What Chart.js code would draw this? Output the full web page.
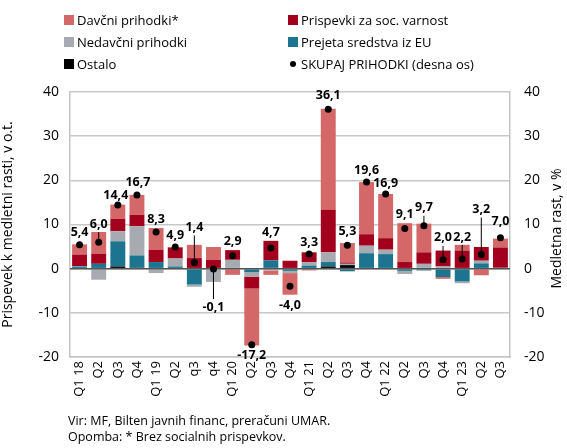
<!DOCTYPE html>
<html>
<head>
<meta charset="utf-8">
<script src="https://cdn.jsdelivr.net/npm/chart.js@4"></script>
<style>
  html, body { margin: 0; padding: 0; background: #fff; }
  #wrap { position: relative; width: 567px; height: 448px; font-family: 'Open Sans', sans-serif; color: #000; }
  #legend { position: absolute; left: 0; top: 0; width: 567px; font-size: 13px; }
  .lg { position: absolute; display: flex; align-items: center; white-space: nowrap; }
  .sw { width: 10px; height: 10px; margin-right: 3px; }
  .dot { width: 6px; height: 6px; border-radius: 50%; background: #000; margin: 0 5px 0 2px; }
  .note { position: absolute; left: 68px; font-size: 12.5px; white-space: nowrap; }
</style>
</head>
<body>
<div id="wrap">
  <canvas id="c" width="567" height="448"></canvas>
  <div id="legend"></div>
  <div class="note" style="top:412px">Vir: MF, Bilten javnih financ, preračuni UMAR.</div>
  <div class="note" style="top:428px">Opomba: * Brez socialnih prispevkov.</div>
</div>
<script>
const categories = ['Q1 18', 'Q2', 'Q3', 'Q4', 'Q1 19', 'Q2', 'q3', 'q4', 'Q1 20', 'Q2', 'Q3', 'Q4',
  'Q1 21', 'Q2', 'Q3', 'Q4', 'Q1 22', 'Q2', 'Q3', 'Q4', 'Q1 23', 'Q2', 'Q3'];

const davcni    = [2.3, 4.9, 3.2, 4.5, 4.9, 0.1, 3.0, 2.9, -1.4, -12.9, -1.0, -4.9, -0.4, 22.9, 4.4, 11.8, 10.0, 8.8, 6.5, -0.4, 1.3, -1.5, 2.0];
const prispevki = [2.6, 2.3, 2.8, 2.6, 2.8, 2.5, 2.4, 2.0, 2.2, -2.7, 4.4, 1.8, 2.2, 9.6, 0.3, 2.6, 2.6, 1.5, 2.6, 3.6, 4.1, 3.1, 4.6];
const nedavcni  = [0.1, -2.5, 2.3, 6.6, -1.0, 1.8, -0.5, -3.0, 2.0, -1.0, -0.4, -0.5, 0.8, 2.2, 0.3, 1.7, 1.0, -0.7, 1.1, 0.5, -0.4, 0.6, 0.2];
const euSredstva = [0.5, 1.1, 5.7, 2.8, 1.5, 0.5, -3.6, 0.0, 0.0, -0.8, 1.7, -0.5, 0.7, 1.0, -0.6, 3.5, 3.3, -0.5, -0.4, -1.9, -2.9, 1.2, 0.0];
const ostalo    = [0, 0, 0.5, 0.2, 0, 0, 0, 0, 0, 0, 0.2, 0, 0, 0.5, 0.8, 0, 0, 0, 0, 0, 0, 0, 0];
const skupaj    = [5.4, 6.0, 14.4, 16.7, 8.3, 4.9, 1.4, -0.1, 2.9, -17.2, 4.7, -4.0, 3.3, 36.1, 5.3, 19.6, 16.9, 9.1, 9.7, 2.0, 2.2, 3.2, 7.0];

const axisMin = -20, axisMax = 40, axisStep = 10;

const COLORS = {
  davcni: '#d46868',
  prispevki: '#a2001d',
  nedavcni: '#a7abb1',
  eu: '#1c7490',
  ostalo: '#000000'
};

// label offsets from the point: [dx, dy, leader line]
const labelShift = [
  [0, -12], [0, -18, true], [-2, -10], [1, -12], [0, -13], [0, -12], [0, -35, true], [0, 38, true],
  [0, -14], [0, 11], [0, -15], [0, 19], [0, -12], [0, -14], [0, -14], [0, -12], [0, -11],
  [0, -14], [0, -18, true], [0, -22, true], [0, -22, true], [0, -45, true], [0, -16]
];

// html legend, two columns
const legendItems = [
  ['Davčni prihodki*', COLORS.davcni, 64, 11],
  ['Prispevki za soc. varnost', COLORS.prispevki, 288, 11],
  ['Nedavčni prihodki', COLORS.nedavcni, 64, 33],
  ['Prejeta sredstva iz EU', COLORS.eu, 288, 33],
  ['Ostalo', COLORS.ostalo, 64, 55],
  ['SKUPAJ PRIHODKI (desna os)', null, 288, 55]
];
const lg = document.getElementById('legend');
legendItems.forEach(([txt, col, x, y]) => {
  const d = document.createElement('div');
  d.className = 'lg';
  d.style.left = x + 'px';
  d.style.top = y + 'px';
  d.innerHTML = (col ? '<span class="sw" style="background:' + col + '"></span>' : '<span class="dot"></span>') + txt;
  lg.appendChild(d);
});

const pointLabels = {
  id: 'pointLabels',
  beforeDatasetDraw(chart, args) {
    // zero line sits over the bars, under the points
    if (args.index !== 5) return;
    const y = chart.scales.y.getPixelForValue(0);
    const ctx = chart.ctx;
    ctx.save();
    ctx.strokeStyle = '#555';
    ctx.lineWidth = 1.5;
    ctx.beginPath();
    ctx.moveTo(chart.chartArea.left, y);
    ctx.lineTo(chart.chartArea.right, y);
    ctx.stroke();
    ctx.restore();
  },
  afterDatasetsDraw(chart) {
    const meta = chart.getDatasetMeta(5);
    const ctx = chart.ctx;
    ctx.save();
    ctx.font = 'bold 12.5px "Open Sans", sans-serif';
    ctx.textAlign = 'center';
    ctx.textBaseline = 'middle';
    ctx.fillStyle = '#000';
    ctx.strokeStyle = '#000';
    ctx.lineWidth = 1;
    meta.data.forEach((p, i) => {
      const [dx, dy, leader] = labelShift[i];
      const ty = p.y + dy;
      if (leader) {
        ctx.beginPath();
        ctx.moveTo(p.x, ty + (dy < 0 ? 8 : -8));
        ctx.lineTo(p.x, p.y);
        ctx.stroke();
      }
      ctx.fillText(skupaj[i].toFixed(1).replace('.', ','), p.x + dx, ty);
    });
    ctx.restore();
  },
  afterDraw(chart) {
    // right axis title reads bottom-to-top like the left one
    const ctx = chart.ctx;
    const a = chart.chartArea;
    ctx.save();
    ctx.translate(557, (a.top + a.bottom) / 2 + 4);
    ctx.rotate(-Math.PI / 2);
    ctx.font = '14px "Open Sans", sans-serif';
    ctx.textAlign = 'center';
    ctx.textBaseline = 'middle';
    ctx.fillStyle = '#000';
    ctx.fillText('Medletna rast, v %', 0, 0);
    ctx.restore();
  }
};

const barDs = (label, data, color) => ({
  type: 'bar', label, data, backgroundColor: color, borderWidth: 0,
  stack: 's', yAxisID: 'y', order: 2, barPercentage: 0.78, categoryPercentage: 1
});

new Chart(document.getElementById('c'), {
  data: {
    labels: categories,
    datasets: [
      barDs('Ostalo', ostalo, COLORS.ostalo),
      barDs('Prejeta sredstva iz EU', euSredstva, COLORS.eu),
      barDs('Nedavčni prihodki', nedavcni, COLORS.nedavcni),
      barDs('Prispevki za soc. varnost', prispevki, COLORS.prispevki),
      barDs('Davčni prihodki*', davcni, COLORS.davcni),
      {
        type: 'line', label: 'SKUPAJ PRIHODKI (desna os)', data: skupaj, yAxisID: 'y2',
        showLine: false, pointRadius: 3.5, pointBackgroundColor: '#000', pointBorderWidth: 0, order: 1
      }
    ]
  },
  options: {
    responsive: false,
    animation: false,
    layout: { padding: { top: 92, left: 0, right: 0, bottom: 0 } },
    plugins: { legend: { display: false }, tooltip: { enabled: false } },
    scales: {
      x: {
        stacked: true,
        offset: true,
        grid: { display: false, drawTicks: false },
        border: { display: true, color: '#c4c4c4', width: 1.5 },
        ticks: {
          color: '#000', font: { family: 'Open Sans', size: 13 },
          maxRotation: 90, minRotation: 90, autoSkip: false, padding: 4
        },
        afterFit(s) { s.height = 91; }
      },
      y: {
        position: 'left', stacked: true, min: axisMin, max: axisMax,
        ticks: { stepSize: axisStep, color: '#000', font: { family: 'Open Sans', size: 14 }, padding: 11 },
        grid: { color: '#c8c8c8', lineWidth: 1.5, drawTicks: false },
        border: { display: true, color: '#c4c4c4', width: 1.5 },
        title: { display: true, text: 'Prispevek k medletni rasti, v o.t.', color: '#000',
          font: { family: 'Open Sans', size: 14 }, padding: { top: 0, bottom: 4 } },
        afterFit(s) { s.width = 70; }
      },
      y2: {
        position: 'right', min: axisMin, max: axisMax,
        ticks: { stepSize: axisStep, color: '#000', font: { family: 'Open Sans', size: 14 }, padding: 14 },
        grid: { display: false, drawTicks: false },
        border: { display: true, color: '#c4c4c4', width: 1.5 },
        afterFit(s) { s.width = 57; }
      }
    }
  },
  plugins: [pointLabels]
});
</script>
</body>
</html>
